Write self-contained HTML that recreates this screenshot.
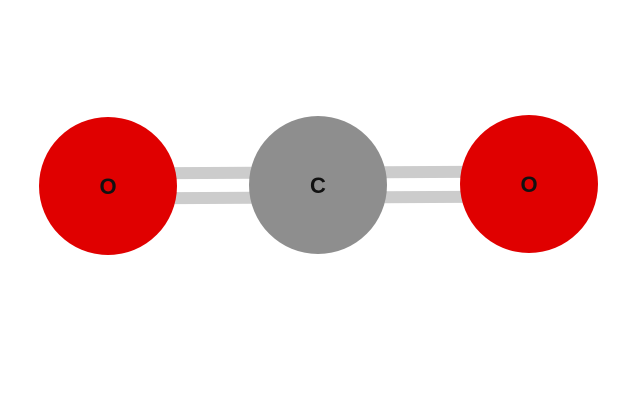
<!DOCTYPE html>
<html><head><meta charset="utf-8"><style>
html,body{margin:0;padding:0;background:#fff;width:635px;height:403px;overflow:hidden}
</style></head><body>
<svg id="mol" width="635" height="403" xmlns="http://www.w3.org/2000/svg"></svg>
<script>
const atomLabels = ["O", "C", "O"];
const atomX = [108, 318, 529];
const atomY = [186, 185, 184];
const atomColors = ["#e00000", "#8e8e8e", "#e00000"];
const bondFrom = [0, 1];
const bondTo = [1, 2];
const bondOrder = [2, 2];

const svg = document.getElementById('mol');
const NS = 'http://www.w3.org/2000/svg';
const R = 69, gap = 12.5, bw = 12;
for (let b = 0; b < bondFrom.length; b++) {
  const a = bondFrom[b], c = bondTo[b];
  const dx = atomX[c]-atomX[a], dy = atomY[c]-atomY[a];
  const len = Math.hypot(dx,dy), nx = -dy/len, ny = dx/len;
  for (let k = 0; k < bondOrder[b]; k++) {
    const off = (k-(bondOrder[b]-1)/2)*gap*2;
    const l = document.createElementNS(NS,'line');
    
    
    l.setAttribute('x1', atomX[a]+nx*off); l.setAttribute('y1', atomY[a]+ny*off);
    l.setAttribute('x2', atomX[c]+nx*off); l.setAttribute('y2', atomY[c]+ny*off);
    l.setAttribute('stroke', '#cccccc'); l.setAttribute('stroke-width', bw);
    svg.appendChild(l);
  }
}
for (let i = 0; i < atomLabels.length; i++) {
  const g = document.createElementNS(NS,'g');
  
  
  const c = document.createElementNS(NS,'circle');
  
  
  c.setAttribute('cx', atomX[i]); c.setAttribute('cy', atomY[i]); c.setAttribute('r', R);
  c.setAttribute('fill', atomColors[i]);
  g.appendChild(c);
  const t = document.createElementNS(NS,'text');
  
  
  t.setAttribute('x', atomX[i]); t.setAttribute('y', atomY[i]+8);
  t.setAttribute('text-anchor', 'middle');
  t.setAttribute('font-family', 'Liberation Sans, sans-serif');
  t.setAttribute('font-size', '22'); t.setAttribute('font-weight', 'bold');
  t.setAttribute('fill', '#111');
  t.textContent = atomLabels[i];
  g.appendChild(t);
  svg.appendChild(g);
}
</script>
</body></html>
